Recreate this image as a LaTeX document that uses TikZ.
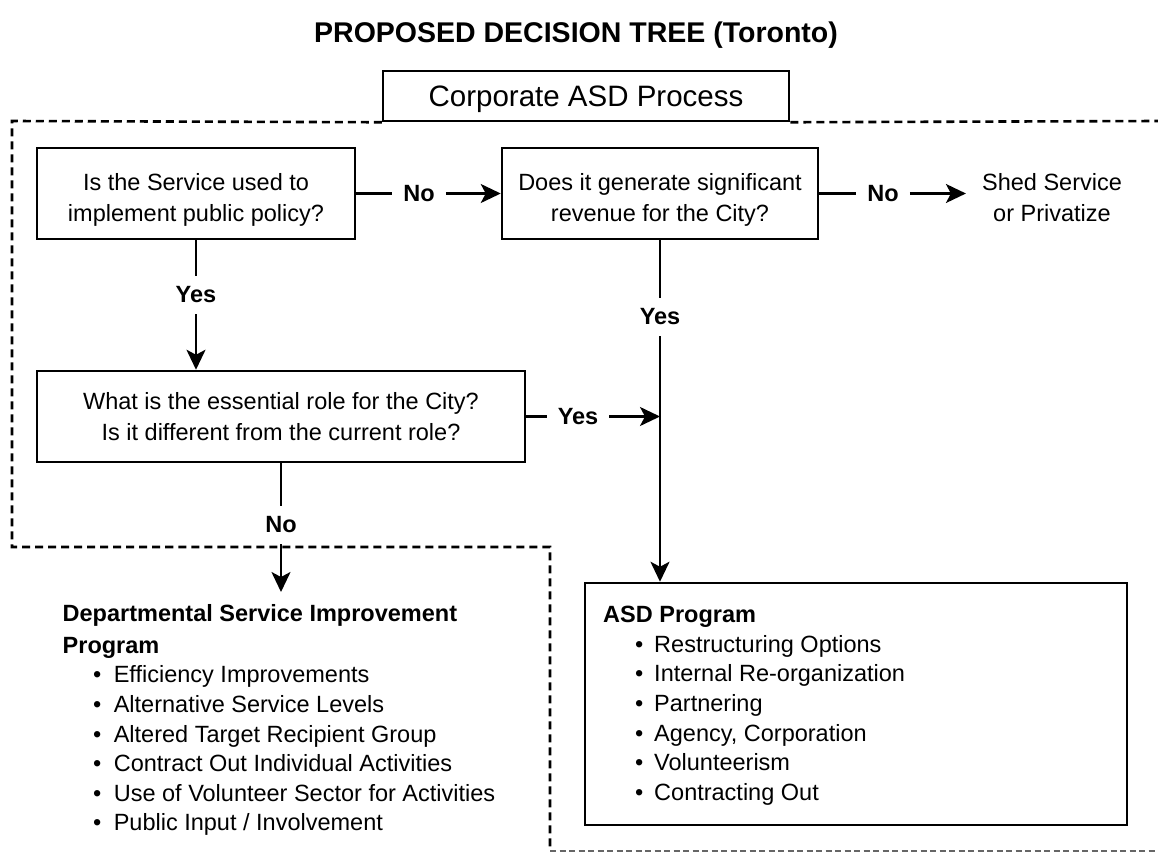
\documentclass[tikz,border=0pt]{standalone}
\usepackage{fontspec}
\setmainfont{Liberation Sans}
\usetikzlibrary{arrows.meta}

% extra room above the first line of a two-line question
\newcommand\firstlift{\rule{0pt}{29pt}}
% bullet rows of the two programme lists
\newcommand\dsipitem[1]{\hspace*{30.5pt}•\hspace{12.4pt}#1}
\newcommand\asditem[1]{\hspace*{32pt}•\hspace{10.8pt}#1}

\begin{document}
\begin{tikzpicture}[x=1pt, y=-1pt,
  every node/.style={inner sep=0pt},
  qbox/.style={draw, line width=2.5pt, align=center,
    font=\fontsize{23.5}{31}\selectfont},
  lbl/.style={font=\bfseries\fontsize{23.5}{28}\selectfont,
    inner xsep=11pt, inner ysep=11pt},
  conn/.style={line width=2.2pt},
  arr/.style={line width=2.2pt, -{Stealth[length=20pt, width=19pt, inset=5pt]}},
  bound/.style={line width=2.6pt, dash pattern=on 8pt off 5pt},
  boundthin/.style={line width=1.5pt, dash pattern=on 6pt off 3.5pt, black!60},
  listtext/.style={align=left, anchor=north west,
    font=\fontsize{23.5}{29.6}\selectfont},
]
\useasboundingbox (0,0) rectangle (1158,854);

% title
\node[font=\bfseries\fontsize{28.5}{34}\selectfont, anchor=base] (title)
  at (576,42) {PROPOSED DECISION TREE (Toronto)};

% process header
\node[draw, line width=2.5pt, minimum width=406pt, minimum height=50pt,
  font=\fontsize{29.5}{35}\selectfont] (corp) at (586,96)
  {\raisebox{-3.4pt}[\height][\depth]{Corporate ASD Process}};

% questions
\node[qbox, minimum width=318pt, minimum height=91pt] (q1) at (196,193.5)
  {\firstlift Is the Service used to\\implement public policy?};
\node[qbox, minimum width=316pt, minimum height=91pt] (q2) at (660,193.5)
  {\firstlift Does it generate significant\\revenue for the City?};
\node[qbox, minimum width=488pt, minimum height=91pt] (q3) at (281,416.5)
  {What is the essential role for the City?\\Is it different from the current role?};

% outcomes
\node[font=\fontsize{23.5}{31}\selectfont, align=center, inner xsep=16pt]
  (shed) at (1052,197.5) {Shed Service\\or Privatize};

\node[draw, line width=2.5pt, minimum width=542pt, minimum height=242pt]
  (asd) at (856,704) {};
\node[listtext] (asdlist) at (603,606)
  {\textbf{ASD Program}\\
   \asditem{Restructuring Options}\\
   \asditem{Internal Re-organization}\\
   \asditem{Partnering}\\
   \asditem{Agency, Corporation}\\
   \asditem{Volunteerism}\\
   \asditem{Contracting Out}};

\node[listtext] (dsip) at (62.5,604)
  {\textbf{Departmental Service Improvement}\\[2.4pt]
   \textbf{Program}\\
   \dsipitem{Efficiency Improvements}\\
   \dsipitem{Alternative Service Levels}\\
   \dsipitem{Altered Target Recipient Group}\\
   \dsipitem{Contract Out Individual Activities}\\
   \dsipitem{Use of Volunteer Sector for Activities}\\
   \dsipitem{Public Input / Involvement}};

% branch labels
\node[lbl] (no1)  at (419,193.5) {No};
\node[lbl] (no2)  at (883,193.5) {No};
\node[lbl] (yes1) at (196,295)   {Yes};
\node[lbl] (yes2) at (660,317)   {Yes};
\node[lbl] (yes3) at (578,416.5) {Yes};
\node[lbl] (no3)  at (281,525)   {No};
\coordinate (join) at (660,416.5);

% ASD process boundary
\draw[bound] (corp.south west) -- (12,121) -- (12,547) -- (550,547) -- (550,851);
\draw[bound] (corp.south east) -- (1158,121);
\draw[boundthin] (550,851) -- (1158,851);

% connectors
\draw[conn] (q1.east) -- (no1.west);
\draw[arr]  (no1.east) -- (q2.west);
\draw[conn] (q2.east) -- (no2.west);
\draw[arr]  (no2.east) -- (no2.east -| shed.west);
\draw[conn] (q1.south) -- (yes1.north);
\draw[arr]  (yes1.south) -- (yes1.south |- q3.north);
\draw[conn] (q2.south) -- (yes2.north);
\draw[arr]  (yes2.south) -- (yes2.south |- asd.north);
\draw[conn] (q3.east) -- (yes3.west);
\draw[arr]  (yes3.east) -- (join);
\draw[conn] (q3.south) -- (no3.north);
\draw[arr, shorten >=12pt] (no3.south) -- (no3.south |- dsip.north);
\end{tikzpicture}
\end{document}
